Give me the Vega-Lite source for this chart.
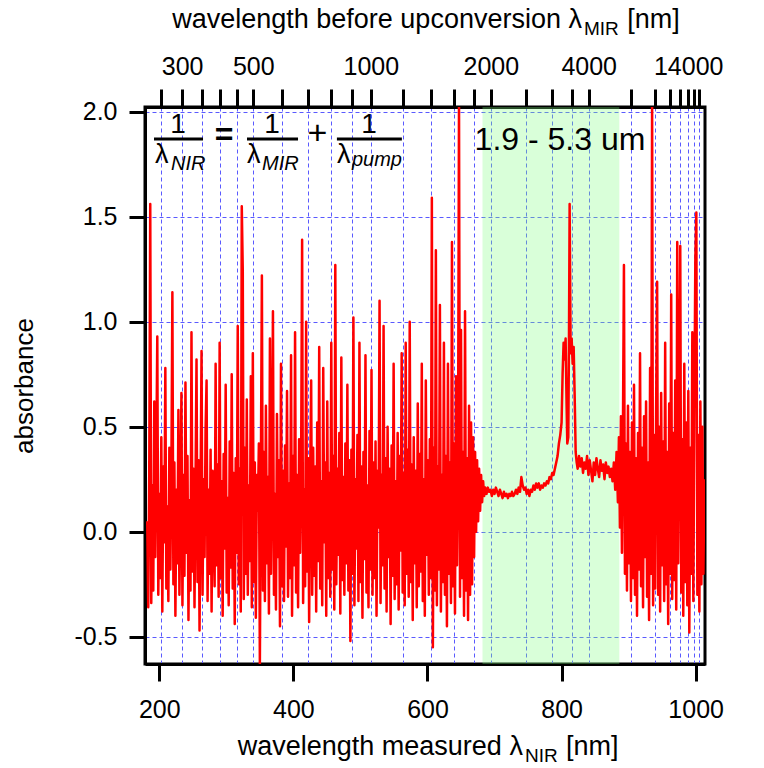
{
  "width": 560,
  "height": 557,
  "autosize": {"type": "none"},
  "padding": {"left": 145, "top": 107, "right": 59, "bottom": 104},
  "background": "white",
  "config": {
    "font": "Liberation Sans",
    "view": {"stroke": "black", "strokeWidth": 3},
    "axis": {"domainColor": "black", "domainWidth": 3, "tickColor": "black", "tickWidth": 3, "labelColor": "black", "labelFont": "Liberation Sans", "labelFontSize": 25, "titleColor": "black", "titleFont": "Liberation Sans", "titleFontSize": 26, "titleFontWeight": "normal", "gridColor": "#5a5aff", "gridDash": [4, 3], "gridWidth": 1, "labelFlush": false, "labelOverlap": false},
    "text": {"font": "Liberation Sans", "color": "black"}
  },
  "datasets": {
    "band": [{"from_nm": 682.05, "to_nm": 886.1}],
    "spec": [
{"nm":182,"A":0.05},{"nm":183.5,"A":-0.36},{"nm":185,"A":0.28},{"nm":186.5,"A":1.56},{"nm":188,"A":-0.34},{"nm":189.5,"A":0.22},{"nm":191,"A":-0.28},{"nm":192.5,"A":0.62},{"nm":194,"A":-0.12},{"nm":195.5,"A":0.35},
{"nm":197,"A":0.93},{"nm":198.5,"A":-0.3},{"nm":200,"A":0.18},{"nm":201.5,"A":-0.22},{"nm":203,"A":0.45},{"nm":204.5,"A":-0.38},{"nm":206,"A":0.31},{"nm":207.5,"A":-0.05},{"nm":209,"A":0.78},{"nm":210.5,"A":-0.27},
{"nm":212,"A":0.12},{"nm":213.5,"A":-0.33},{"nm":215,"A":0.4},{"nm":216.5,"A":-0.18},{"nm":218,"A":0.26},{"nm":219.5,"A":1.14},{"nm":221,"A":-0.25},{"nm":222.5,"A":0.33},{"nm":224,"A":-0.4},{"nm":225.5,"A":0.2},
{"nm":227,"A":-0.15},{"nm":228.5,"A":0.58},{"nm":230,"A":-0.3},{"nm":231.5,"A":0.1},{"nm":233,"A":0.66},{"nm":234.5,"A":-0.35},{"nm":236,"A":0.27},{"nm":237.5,"A":-0.21},{"nm":239,"A":0.71},{"nm":240.5,"A":-0.1},
{"nm":242,"A":0.36},{"nm":243.5,"A":-0.42},{"nm":245,"A":0.15},{"nm":246.5,"A":-0.28},{"nm":248,"A":0.95},{"nm":249.5,"A":-0.19},{"nm":251,"A":0.3},{"nm":252.5,"A":-0.36},{"nm":254,"A":0.22},{"nm":255.5,"A":0.82},
{"nm":257,"A":-0.24},{"nm":258.5,"A":0.34},{"nm":260,"A":-0.47},{"nm":261.5,"A":0.18},{"nm":263,"A":0.86},{"nm":264.5,"A":-0.3},{"nm":266,"A":0.25},{"nm":267.5,"A":-0.12},{"nm":269,"A":0.48},{"nm":270.5,"A":0.72},
{"nm":272,"A":-0.33},{"nm":273.5,"A":0.2},{"nm":275,"A":-0.2},{"nm":276.5,"A":0.39},{"nm":278,"A":-0.38},{"nm":279.5,"A":0.29},{"nm":281,"A":0.05},{"nm":282.5,"A":-0.26},{"nm":284,"A":0.8},{"nm":285.5,"A":-0.16},
{"nm":287,"A":0.32},{"nm":288.5,"A":-0.31},{"nm":290,"A":0.9},{"nm":291.5,"A":-0.22},{"nm":293,"A":0.24},{"nm":294.5,"A":-0.4},{"nm":296,"A":0.37},{"nm":297.5,"A":-0.08},{"nm":299,"A":0.7},{"nm":300.5,"A":-0.29},
{"nm":302,"A":0.16},{"nm":303.5,"A":-0.35},{"nm":305,"A":0.43},{"nm":306.5,"A":-0.17},{"nm":308,"A":0.75},{"nm":309.5,"A":-0.27},{"nm":311,"A":0.28},{"nm":312.5,"A":-0.44},{"nm":314,"A":0.35},{"nm":315.5,"A":-0.1},
{"nm":317,"A":0.98},{"nm":318.5,"A":-0.25},{"nm":320,"A":0.3},{"nm":321.5,"A":-0.38},{"nm":323,"A":1.55},{"nm":324.5,"A":1.24},{"nm":326,"A":-0.32},{"nm":327.5,"A":0.4},{"nm":329,"A":-0.2},{"nm":330.5,"A":0.63},
{"nm":332,"A":-0.3},{"nm":333.5,"A":0.22},{"nm":335,"A":-0.14},{"nm":336.5,"A":0.74},{"nm":338,"A":-0.36},{"nm":339.5,"A":0.85},{"nm":341,"A":-0.24},{"nm":342.5,"A":0.33},{"nm":344,"A":-0.41},{"nm":345.5,"A":0.27},
{"nm":347,"A":0.1},{"nm":348.5,"A":0.42},{"nm":350,"A":-0.63},{"nm":351.5,"A":0.3},{"nm":353,"A":1.22},{"nm":354.5,"A":-0.28},{"nm":356,"A":0.38},{"nm":357.5,"A":-0.33},{"nm":359,"A":0.6},{"nm":360.5,"A":-0.15},
{"nm":362,"A":0.26},{"nm":363.5,"A":-0.39},{"nm":365,"A":0.92},{"nm":366.5,"A":-0.2},{"nm":368,"A":0.31},{"nm":369.5,"A":1.05},{"nm":371,"A":-0.3},{"nm":372.5,"A":0.18},{"nm":374,"A":-0.37},{"nm":375.5,"A":0.56},
{"nm":377,"A":-0.12},{"nm":378.5,"A":0.34},{"nm":380,"A":-0.45},{"nm":381.5,"A":0.8},{"nm":383,"A":-0.26},{"nm":384.5,"A":0.29},{"nm":386,"A":-0.33},{"nm":387.5,"A":0.41},{"nm":389,"A":-0.07},{"nm":390.5,"A":0.67},
{"nm":392,"A":-0.31},{"nm":393.5,"A":0.23},{"nm":395,"A":-0.22},{"nm":396.5,"A":0.84},{"nm":398,"A":-0.4},{"nm":399.5,"A":0.36},{"nm":401,"A":-0.16},{"nm":402.5,"A":0.95},{"nm":404,"A":-0.29},{"nm":405.5,"A":0.27},
{"nm":407,"A":-0.36},{"nm":408.5,"A":0.44},{"nm":410,"A":-0.1},{"nm":411.5,"A":0.3},{"nm":413,"A":1.39},{"nm":414.5,"A":-0.34},{"nm":416,"A":0.2},{"nm":417.5,"A":-0.26},{"nm":419,"A":1.0},{"nm":420.5,"A":-0.19},
{"nm":422,"A":0.35},{"nm":423.5,"A":-0.43},{"nm":425,"A":0.26},{"nm":426.5,"A":0.72},{"nm":428,"A":-0.3},{"nm":429.5,"A":0.4},{"nm":431,"A":-0.21},{"nm":432.5,"A":0.31},{"nm":434,"A":-0.38},{"nm":435.5,"A":0.52},
{"nm":437,"A":-0.14},{"nm":438.5,"A":0.88},{"nm":440,"A":-0.27},{"nm":441.5,"A":0.24},{"nm":443,"A":-0.35},{"nm":444.5,"A":0.78},{"nm":446,"A":-0.05},{"nm":447.5,"A":0.33},{"nm":449,"A":-0.4},{"nm":450.5,"A":0.62},
{"nm":452,"A":-0.22},{"nm":453.5,"A":0.28},{"nm":455,"A":-0.31},{"nm":456.5,"A":0.9},{"nm":458,"A":-0.18},{"nm":459.5,"A":0.36},{"nm":461,"A":-0.37},{"nm":462.5,"A":1.27},{"nm":464,"A":-0.25},{"nm":465.5,"A":0.3},
{"nm":467,"A":-0.11},{"nm":468.5,"A":0.47},{"nm":470,"A":-0.39},{"nm":471.5,"A":0.83},{"nm":473,"A":-0.23},{"nm":474.5,"A":0.26},{"nm":476,"A":-0.3},{"nm":477.5,"A":0.42},{"nm":479,"A":-0.15},{"nm":480.5,"A":0.7},
{"nm":482,"A":-0.28},{"nm":483.5,"A":0.34},{"nm":485,"A":-0.52},{"nm":486.5,"A":0.39},{"nm":488,"A":-0.2},{"nm":489.5,"A":1.02},{"nm":491,"A":-0.35},{"nm":492.5,"A":0.25},{"nm":494,"A":-0.08},{"nm":495.5,"A":0.46},
{"nm":497,"A":-0.33},{"nm":498.5,"A":0.9},{"nm":500,"A":-0.24},{"nm":501.5,"A":0.31},{"nm":503,"A":-0.41},{"nm":504.5,"A":0.38},{"nm":506,"A":-0.13},{"nm":507.5,"A":0.84},{"nm":509,"A":-0.29},{"nm":510.5,"A":0.22},
{"nm":512,"A":-0.36},{"nm":513.5,"A":0.48},{"nm":515,"A":-0.18},{"nm":516.5,"A":0.77},{"nm":518,"A":-0.3},{"nm":519.5,"A":0.33},{"nm":521,"A":-0.22},{"nm":522.5,"A":0.43},{"nm":524,"A":-0.4},{"nm":525.5,"A":0.29},
{"nm":527,"A":0.02},{"nm":528.5,"A":1.1},{"nm":530,"A":-0.34},{"nm":531.5,"A":0.27},{"nm":533,"A":-0.16},{"nm":534.5,"A":0.98},{"nm":536,"A":-0.27},{"nm":537.5,"A":0.35},{"nm":539,"A":-0.38},{"nm":540.5,"A":0.5},
{"nm":542,"A":-0.12},{"nm":543.5,"A":0.3},{"nm":545,"A":-0.44},{"nm":546.5,"A":0.41},{"nm":548,"A":-0.21},{"nm":549.5,"A":0.8},{"nm":551,"A":-0.32},{"nm":552.5,"A":0.24},{"nm":554,"A":-0.25},{"nm":555.5,"A":0.47},
{"nm":557,"A":-0.37},{"nm":558.5,"A":0.36},{"nm":560,"A":-0.09},{"nm":561.5,"A":0.85},{"nm":563,"A":-0.29},{"nm":564.5,"A":0.28},{"nm":566,"A":-0.35},{"nm":567.5,"A":0.9},{"nm":569,"A":-0.2},{"nm":570.5,"A":0.39},
{"nm":572,"A":-0.31},{"nm":573.5,"A":1.0},{"nm":575,"A":-0.24},{"nm":576.5,"A":0.32},{"nm":578,"A":-0.42},{"nm":579.5,"A":0.45},{"nm":581,"A":-0.15},{"nm":582.5,"A":0.29},{"nm":584,"A":-0.36},{"nm":585.5,"A":0.61},
{"nm":587,"A":-0.26},{"nm":588.5,"A":0.37},{"nm":590,"A":-0.19},{"nm":591.5,"A":0.8},{"nm":593,"A":-0.33},{"nm":594.5,"A":0.25},{"nm":596,"A":-0.4},{"nm":597.5,"A":0.72},{"nm":599,"A":-0.11},{"nm":600.5,"A":0.34},
{"nm":602,"A":-0.3},{"nm":603.5,"A":0.44},{"nm":605,"A":-0.22},{"nm":606.5,"A":1.59},{"nm":608,"A":-0.55},{"nm":609.5,"A":0.4},{"nm":611,"A":-0.28},{"nm":612.5,"A":1.34},{"nm":614,"A":-0.35},{"nm":615.5,"A":0.31},
{"nm":617,"A":-0.18},{"nm":618.5,"A":1.08},{"nm":620,"A":-0.38},{"nm":621.5,"A":0.27},{"nm":623,"A":-0.24},{"nm":624.5,"A":0.9},{"nm":626,"A":-0.3},{"nm":627.5,"A":0.36},{"nm":629,"A":-0.45},{"nm":630.5,"A":0.8},
{"nm":632,"A":-0.2},{"nm":633.5,"A":0.33},{"nm":635,"A":-0.34},{"nm":636.5,"A":1.38},{"nm":638,"A":-0.26},{"nm":639.5,"A":0.42},{"nm":641,"A":-0.39},{"nm":642.5,"A":0.74},{"nm":644,"A":-0.16},{"nm":645.5,"A":0.3},
{"nm":647,"A":2.05},{"nm":648.5,"A":-0.31},{"nm":650,"A":0.96},{"nm":651.5,"A":-0.22},{"nm":653,"A":0.38},{"nm":654.5,"A":-0.4},{"nm":656,"A":1.05},{"nm":657.5,"A":-0.28},{"nm":659,"A":0.35},{"nm":660.5,"A":-0.42},
{"nm":662,"A":0.6},{"nm":663.5,"A":-0.3},{"nm":665,"A":0.52},{"nm":666.5,"A":-0.25},{"nm":668,"A":0.45},{"nm":669.5,"A":-0.12},{"nm":671,"A":0.38},{"nm":672.5,"A":0.0},{"nm":674,"A":0.34},{"nm":675.5,"A":0.05},
{"nm":677,"A":0.3},{"nm":678.5,"A":0.1},{"nm":680,"A":0.27},{"nm":681.5,"A":0.14},{"nm":683,"A":0.24},{"nm":684.5,"A":0.17},
{"nm":686,"A":0.21},{"nm":688,"A":0.18},{"nm":690,"A":0.21},{"nm":692,"A":0.19},{"nm":694,"A":0.2},{"nm":696,"A":0.17},{"nm":698,"A":0.2},{"nm":700,"A":0.18},{"nm":702,"A":0.21},{"nm":704,"A":0.19},
{"nm":706,"A":0.17},{"nm":708,"A":0.2},{"nm":710,"A":0.18},{"nm":712,"A":0.16},{"nm":714,"A":0.19},{"nm":716,"A":0.17},{"nm":718,"A":0.18},{"nm":720,"A":0.16},{"nm":722,"A":0.18},{"nm":724,"A":0.17},
{"nm":726,"A":0.19},{"nm":728,"A":0.17},{"nm":730,"A":0.18},{"nm":732,"A":0.2},{"nm":734,"A":0.18},{"nm":736,"A":0.21},{"nm":738,"A":0.19},{"nm":740,"A":0.26},{"nm":742,"A":0.22},{"nm":744,"A":0.2},
{"nm":746,"A":0.21},{"nm":748,"A":0.18},{"nm":750,"A":0.2},{"nm":752,"A":0.17},{"nm":754,"A":0.2},{"nm":756,"A":0.19},{"nm":758,"A":0.22},{"nm":760,"A":0.2},{"nm":762,"A":0.23},{"nm":764,"A":0.21},
{"nm":766,"A":0.23},{"nm":768,"A":0.2},{"nm":770,"A":0.22},{"nm":772,"A":0.21},{"nm":774,"A":0.23},{"nm":776,"A":0.22},{"nm":778,"A":0.24},{"nm":780,"A":0.23},{"nm":782,"A":0.26},{"nm":784,"A":0.25},
{"nm":786,"A":0.28},{"nm":788,"A":0.27},{"nm":790,"A":0.3},{"nm":792,"A":0.33},{"nm":794,"A":0.36},{"nm":796,"A":0.42},{"nm":798,"A":0.46},{"nm":800,"A":0.52},{"nm":801.5,"A":0.75},{"nm":803,"A":0.9},
{"nm":804.5,"A":0.82},{"nm":806,"A":0.92},{"nm":807.5,"A":0.6},{"nm":808.5,"A":0.42},{"nm":810,"A":0.45},{"nm":811,"A":0.9},{"nm":812,"A":1.56},{"nm":813.5,"A":0.85},{"nm":815,"A":0.92},{"nm":816.5,"A":0.8},
{"nm":818,"A":0.88},{"nm":819.5,"A":0.65},{"nm":821,"A":0.38},{"nm":822.5,"A":0.33},{"nm":824,"A":0.3},{"nm":826,"A":0.36},{"nm":828,"A":0.31},{"nm":830,"A":0.35},{"nm":832,"A":0.28},{"nm":834,"A":0.33},{"nm":836,"A":0.3},
{"nm":838,"A":0.36},{"nm":840,"A":0.27},{"nm":842,"A":0.34},{"nm":844,"A":0.29},{"nm":846,"A":0.24},{"nm":848,"A":0.33},{"nm":850,"A":0.27},{"nm":852,"A":0.35},{"nm":854,"A":0.3},{"nm":856,"A":0.26},
{"nm":858,"A":0.34},{"nm":860,"A":0.29},{"nm":862,"A":0.32},{"nm":864,"A":0.25},{"nm":866,"A":0.33},{"nm":868,"A":0.28},{"nm":870,"A":0.31},{"nm":872,"A":0.26},{"nm":874,"A":0.3},{"nm":876,"A":0.24},
{"nm":878,"A":0.33},{"nm":880,"A":0.2},{"nm":882,"A":0.38},{"nm":884,"A":0.14},{"nm":885.5,"A":0.45},{"nm":887,"A":0.02},
{"nm":888.5,"A":0.55},{"nm":890,"A":-0.1},{"nm":891.5,"A":0.48},{"nm":893,"A":1.27},{"nm":894.5,"A":-0.2},{"nm":896,"A":0.42},{"nm":897.5,"A":-0.28},{"nm":899,"A":0.6},{"nm":900.5,"A":-0.15},{"nm":902,"A":0.38},
{"nm":903.5,"A":-0.33},{"nm":905,"A":0.52},{"nm":906.5,"A":-0.22},{"nm":908,"A":0.7},{"nm":909.5,"A":-0.3},{"nm":911,"A":0.35},{"nm":912.5,"A":-0.4},{"nm":914,"A":0.47},{"nm":915.5,"A":-0.18},{"nm":917,"A":0.85},
{"nm":918.5,"A":-0.26},{"nm":920,"A":0.4},{"nm":921.5,"A":-0.36},{"nm":923,"A":0.55},{"nm":924.5,"A":-0.12},{"nm":926,"A":0.62},{"nm":927.5,"A":-0.31},{"nm":929,"A":0.33},{"nm":930.5,"A":-0.42},{"nm":932,"A":0.78},
{"nm":933.5,"A":-0.2},{"nm":935,"A":2.05},{"nm":936.5,"A":-0.35},{"nm":938,"A":0.46},{"nm":939.5,"A":-0.27},{"nm":941,"A":0.58},{"nm":942.5,"A":1.19},{"nm":944,"A":-0.3},{"nm":945.5,"A":0.5},{"nm":947,"A":-0.38},
{"nm":948.5,"A":0.66},{"nm":950,"A":-0.16},{"nm":951.5,"A":0.43},{"nm":953,"A":-0.33},{"nm":954.5,"A":0.9},{"nm":956,"A":-0.25},{"nm":957.5,"A":0.38},{"nm":959,"A":-0.44},{"nm":960.5,"A":0.61},{"nm":962,"A":-0.2},
{"nm":963.5,"A":1.13},{"nm":965,"A":-0.32},{"nm":966.5,"A":0.47},{"nm":968,"A":-0.23},{"nm":969.5,"A":0.72},{"nm":971,"A":-0.37},{"nm":972.5,"A":1.38},{"nm":974,"A":-0.15},{"nm":975.5,"A":0.55},{"nm":977,"A":1.36},
{"nm":978.5,"A":-0.29},{"nm":980,"A":0.44},{"nm":981.5,"A":-0.4},{"nm":983,"A":0.8},{"nm":984.5,"A":-0.24},{"nm":986,"A":0.52},{"nm":987.5,"A":-0.35},{"nm":989,"A":0.67},{"nm":990.5,"A":-0.48},{"nm":992,"A":0.4},
{"nm":993.5,"A":-0.2},{"nm":995,"A":0.95},{"nm":996.5,"A":-0.33},{"nm":998,"A":0.58},{"nm":999.5,"A":1.3},{"nm":1001,"A":1.52},{"nm":1002.5,"A":-0.3},{"nm":1004,"A":0.46},{"nm":1005.5,"A":-0.38},{"nm":1007,"A":0.62},
{"nm":1008.5,"A":-0.25},{"nm":1010,"A":0.5},{"nm":1011.5,"A":-0.2},{"nm":1013,"A":0.25}
    ]
  },
  "data": {"values": [{}]},
  "layer": [
    {
      "data": {"name": "band"},
      "mark": {"type": "rect", "color": "#80ff80", "opacity": 0.3},
      "encoding": {
        "x": {"field": "from_nm", "type": "quantitative", "scale": {"domain": [178.67, 1013.9], "nice": false, "zero": false},
          "axis": {"orient": "top", "title": null, "grid": true, "tickSize": 18, "labelPadding": 10,
            "values": [202.435, 234.018, 263.366, 290.71, 316.248, 340.153, 383.654, 422.222, 456.652, 487.576, 515.504, 563.958, 604.545, 639.039, 668.715, 694.517, 746.352, 785.433, 815.951, 840.442, 903.737, 939.1, 961.677, 977.342, 988.847, 997.656, 1004.616],
            "labelExpr": "indexof([300,500,1000,2000,4000,14000], round(1064*datum.value/(1064-datum.value)/10)*10) >= 0 ? '' + round(1064*datum.value/(1064-datum.value)/10)*10 : ''",
            "encode": {"ticks": {"update": {"y2": {"signal": "indexof([300,500,1000,2000,4000,14000], round(1064*datum.value/(1064-datum.value)/10)*10) >= 0 ? -18 : -10"}}}}
          }
        },
        "x2": {"field": "to_nm"}
      }
    },
    {
      "data": {"name": "spec"},
      "mark": {"type": "line", "color": "#ff0000", "strokeWidth": 2.5, "strokeJoin": "round", "clip": true},
      "encoding": {
        "x": {"field": "nm", "type": "quantitative", "scale": {"domain": [178.67, 1013.9], "nice": false, "zero": false},
          "axis": {"orient": "bottom", "title": null, "grid": false, "values": [200, 400, 600, 800, 1000], "format": "d", "tickSize": 17, "labelPadding": 16}},
        "y": {"field": "A", "type": "quantitative", "scale": {"domain": [-0.63, 2.0224], "nice": false, "zero": false},
          "axis": {"orient": "left", "title": "absorbance", "grid": true, "values": [-0.5, 0, 0.5, 1, 1.5, 2], "labelExpr": "(datum.value < 0 ? '-' : '') + format(abs(datum.value), '.1f')", "tickSize": 16, "labelPadding": 12, "titlePadding": 36}}
      }
    },
    {"mark": {"type": "text", "text": "1", "fontSize": 28, "align": "center", "baseline": "alphabetic"},
     "encoding": {"x": {"datum": 227.9, "type": "quantitative", "scale": {"domain": [178.67, 1013.9], "nice": false, "zero": false}, "axis": null}, "y": {"datum": 1.899, "type": "quantitative", "scale": {"domain": [-0.63, 2.0224], "nice": false, "zero": false}, "axis": null}}},
    {"mark": {"type": "rule", "strokeWidth": 3, "color": "black"},
     "encoding": {"x": {"datum": 192.1, "type": "quantitative", "scale": {"domain": [178.67, 1013.9], "nice": false, "zero": false}, "axis": null}, "x2": {"datum": 265.2}, "y": {"datum": 1.87, "type": "quantitative", "scale": {"domain": [-0.63, 2.0224], "nice": false, "zero": false}, "axis": null}}},
    {"mark": {"type": "text", "text": "λ", "fontSize": 27, "align": "left", "baseline": "alphabetic"},
     "encoding": {"x": {"datum": 193.6, "type": "quantitative", "scale": {"domain": [178.67, 1013.9], "nice": false, "zero": false}, "axis": null}, "y": {"datum": 1.756, "type": "quantitative", "scale": {"domain": [-0.63, 2.0224], "nice": false, "zero": false}, "axis": null}}},
    {"mark": {"type": "text", "text": "NIR", "fontSize": 20, "fontStyle": "italic", "align": "left", "baseline": "alphabetic"},
     "encoding": {"x": {"datum": 217.5, "type": "quantitative", "scale": {"domain": [178.67, 1013.9], "nice": false, "zero": false}, "axis": null}, "y": {"datum": 1.722, "type": "quantitative", "scale": {"domain": [-0.63, 2.0224], "nice": false, "zero": false}, "axis": null}}},
    {"mark": {"type": "text", "text": "=", "fontSize": 32, "fontWeight": "bold", "align": "center", "baseline": "middle"},
     "encoding": {"x": {"datum": 296.7, "type": "quantitative", "scale": {"domain": [178.67, 1013.9], "nice": false, "zero": false}, "axis": null}, "y": {"datum": 1.889, "type": "quantitative", "scale": {"domain": [-0.63, 2.0224], "nice": false, "zero": false}, "axis": null}}},
    {"mark": {"type": "text", "text": "1", "fontSize": 28, "align": "center", "baseline": "alphabetic"},
     "encoding": {"x": {"datum": 368.1, "type": "quantitative", "scale": {"domain": [178.67, 1013.9], "nice": false, "zero": false}, "axis": null}, "y": {"datum": 1.899, "type": "quantitative", "scale": {"domain": [-0.63, 2.0224], "nice": false, "zero": false}, "axis": null}}},
    {"mark": {"type": "rule", "strokeWidth": 3, "color": "black"},
     "encoding": {"x": {"datum": 330.8, "type": "quantitative", "scale": {"domain": [178.67, 1013.9], "nice": false, "zero": false}, "axis": null}, "x2": {"datum": 406.9}, "y": {"datum": 1.87, "type": "quantitative", "scale": {"domain": [-0.63, 2.0224], "nice": false, "zero": false}, "axis": null}}},
    {"mark": {"type": "text", "text": "λ", "fontSize": 27, "align": "left", "baseline": "alphabetic"},
     "encoding": {"x": {"datum": 330.8, "type": "quantitative", "scale": {"domain": [178.67, 1013.9], "nice": false, "zero": false}, "axis": null}, "y": {"datum": 1.756, "type": "quantitative", "scale": {"domain": [-0.63, 2.0224], "nice": false, "zero": false}, "axis": null}}},
    {"mark": {"type": "text", "text": "MIR", "fontSize": 20, "fontStyle": "italic", "align": "left", "baseline": "alphabetic"},
     "encoding": {"x": {"datum": 353.2, "type": "quantitative", "scale": {"domain": [178.67, 1013.9], "nice": false, "zero": false}, "axis": null}, "y": {"datum": 1.722, "type": "quantitative", "scale": {"domain": [-0.63, 2.0224], "nice": false, "zero": false}, "axis": null}}},
    {"mark": {"type": "text", "text": "+", "fontSize": 34, "align": "center", "baseline": "middle"},
     "encoding": {"x": {"datum": 436, "type": "quantitative", "scale": {"domain": [178.67, 1013.9], "nice": false, "zero": false}, "axis": null}, "y": {"datum": 1.894, "type": "quantitative", "scale": {"domain": [-0.63, 2.0224], "nice": false, "zero": false}, "axis": null}}},
    {"mark": {"type": "text", "text": "1", "fontSize": 28, "align": "center", "baseline": "alphabetic"},
     "encoding": {"x": {"datum": 512.7, "type": "quantitative", "scale": {"domain": [178.67, 1013.9], "nice": false, "zero": false}, "axis": null}, "y": {"datum": 1.899, "type": "quantitative", "scale": {"domain": [-0.63, 2.0224], "nice": false, "zero": false}, "axis": null}}},
    {"mark": {"type": "rule", "strokeWidth": 3, "color": "black"},
     "encoding": {"x": {"datum": 464.9, "type": "quantitative", "scale": {"domain": [178.67, 1013.9], "nice": false, "zero": false}, "axis": null}, "x2": {"datum": 561.8}, "y": {"datum": 1.87, "type": "quantitative", "scale": {"domain": [-0.63, 2.0224], "nice": false, "zero": false}, "axis": null}}},
    {"mark": {"type": "text", "text": "λ", "fontSize": 27, "align": "left", "baseline": "alphabetic"},
     "encoding": {"x": {"datum": 464.9, "type": "quantitative", "scale": {"domain": [178.67, 1013.9], "nice": false, "zero": false}, "axis": null}, "y": {"datum": 1.756, "type": "quantitative", "scale": {"domain": [-0.63, 2.0224], "nice": false, "zero": false}, "axis": null}}},
    {"mark": {"type": "text", "text": "pump", "fontSize": 20, "fontStyle": "italic", "align": "left", "baseline": "alphabetic"},
     "encoding": {"x": {"datum": 487.3, "type": "quantitative", "scale": {"domain": [178.67, 1013.9], "nice": false, "zero": false}, "axis": null}, "y": {"datum": 1.741, "type": "quantitative", "scale": {"domain": [-0.63, 2.0224], "nice": false, "zero": false}, "axis": null}}},
    {"mark": {"type": "text", "text": "1.9 - 5.3 um", "fontSize": 32, "align": "center", "baseline": "alphabetic"},
     "encoding": {"x": {"datum": 797.6, "type": "quantitative", "scale": {"domain": [178.67, 1013.9], "nice": false, "zero": false}, "axis": null}, "y": {"datum": 1.818, "type": "quantitative", "scale": {"domain": [-0.63, 2.0224], "nice": false, "zero": false}, "axis": null}}},
    {"mark": {"type": "text", "text": "wavelength before upconversion λ", "fontSize": 27, "align": "right", "baseline": "alphabetic"},
     "encoding": {"x": {"datum": 830.4, "type": "quantitative", "scale": {"domain": [178.67, 1013.9], "nice": false, "zero": false}, "axis": null}, "y": {"datum": 2.399, "type": "quantitative", "scale": {"domain": [-0.63, 2.0224], "nice": false, "zero": false}, "axis": null}}},
    {"mark": {"type": "text", "text": "MIR", "fontSize": 19, "align": "left", "baseline": "alphabetic"},
     "encoding": {"x": {"datum": 833.4, "type": "quantitative", "scale": {"domain": [178.67, 1013.9], "nice": false, "zero": false}, "axis": null}, "y": {"datum": 2.365, "type": "quantitative", "scale": {"domain": [-0.63, 2.0224], "nice": false, "zero": false}, "axis": null}}},
    {"mark": {"type": "text", "text": "[nm]", "fontSize": 27, "align": "left", "baseline": "alphabetic"},
     "encoding": {"x": {"datum": 898, "type": "quantitative", "scale": {"domain": [178.67, 1013.9], "nice": false, "zero": false}, "axis": null}, "y": {"datum": 2.399, "type": "quantitative", "scale": {"domain": [-0.63, 2.0224], "nice": false, "zero": false}, "axis": null}}},
    {"mark": {"type": "text", "text": "wavelength measured λ", "fontSize": 27, "align": "right", "baseline": "alphabetic"},
     "encoding": {"x": {"datum": 742.3, "type": "quantitative", "scale": {"domain": [178.67, 1013.9], "nice": false, "zero": false}, "axis": null}, "y": {"datum": -1.063, "type": "quantitative", "scale": {"domain": [-0.63, 2.0224], "nice": false, "zero": false}, "axis": null}}},
    {"mark": {"type": "text", "text": "NIR", "fontSize": 19, "align": "left", "baseline": "alphabetic"},
     "encoding": {"x": {"datum": 745.4, "type": "quantitative", "scale": {"domain": [178.67, 1013.9], "nice": false, "zero": false}, "axis": null}, "y": {"datum": -1.097, "type": "quantitative", "scale": {"domain": [-0.63, 2.0224], "nice": false, "zero": false}, "axis": null}}},
    {"mark": {"type": "text", "text": "[nm]", "fontSize": 27, "align": "left", "baseline": "alphabetic"},
     "encoding": {"x": {"datum": 806.6, "type": "quantitative", "scale": {"domain": [178.67, 1013.9], "nice": false, "zero": false}, "axis": null}, "y": {"datum": -1.063, "type": "quantitative", "scale": {"domain": [-0.63, 2.0224], "nice": false, "zero": false}, "axis": null}}}
  ],
  "resolve": {"scale": {"x": "independent", "y": "independent"}, "axis": {"x": "independent", "y": "independent"}}
}
